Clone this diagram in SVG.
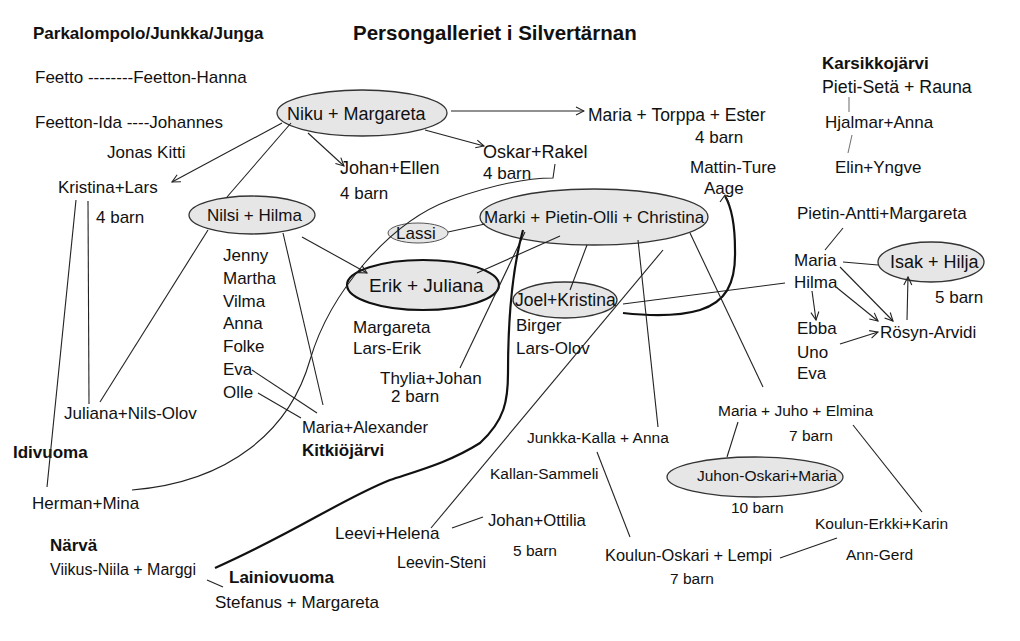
<svg xmlns="http://www.w3.org/2000/svg" width="1020" height="641" viewBox="0 0 1020 641">
<style>
text{font-family:"Liberation Sans",Arial,sans-serif;font-size:17px;fill:#111}
.b{font-weight:bold}
.s{font-size:15.5px}
.el{fill:#e6e6e6;stroke:#333;stroke-width:1.3}
.ln{stroke:#222;stroke-width:1.1;fill:none}
.thk{stroke:#111;stroke-width:2.2;fill:none}
.gr{stroke:#777;stroke-width:1.1;fill:none}
</style>
<defs>
<marker id="ar" markerWidth="10" markerHeight="10" refX="9" refY="5" orient="auto" markerUnits="userSpaceOnUse">
<path d="M1,1 L9,5 L1,9" fill="none" stroke="#222" stroke-width="1.1"/>
</marker>
</defs>
<rect width="1020" height="641" fill="#fff"/>

<g id="titles">
<text x="33" y="39" class="b">Parkalompolo/Junkka/Juŋga</text>
<text x="353" y="40" class="b" style="font-size:20.5px">Persongalleriet i Silvertärnan</text>
</g>

<g id="n-niku"><ellipse class="el" cx="362" cy="113" rx="85" ry="23"/><text x="287" y="120" style="font-size:18px">Niku + Margareta</text></g>
<g id="n-nilsi"><ellipse class="el" cx="252" cy="215" rx="63" ry="19"/><text x="207" y="221">Nilsi + Hilma</text></g>
<g id="n-erik"><ellipse class="el" cx="423" cy="285" rx="76" ry="25" style="stroke-width:2.2;stroke:#111"/><text x="369" y="292" style="font-size:19px">Erik + Juliana</text></g>
<g id="n-lassi"><ellipse class="el" cx="418" cy="233" rx="30" ry="10" style="stroke-width:1;stroke:#555"/><text x="396" y="239">Lassi</text></g>
<g id="n-marki"><ellipse class="el" cx="594" cy="217" rx="114" ry="28"/><text x="484" y="223">Marki + Pietin-Olli + Christina</text></g>
<g id="n-joel"><ellipse class="el" cx="565" cy="300" rx="52" ry="18"/><text x="515" y="306" style="font-size:17.5px">Joel+Kristina</text></g>
<g id="n-isak"><ellipse class="el" cx="931" cy="262" rx="53" ry="20"/><text x="890" y="268" style="font-size:18px">Isak + Hilja</text></g>
<g id="n-juhon"><ellipse class="el" cx="755" cy="477" rx="88" ry="20"/><text x="697" y="481" class="s">Juhon-Oskari+Maria</text></g>

<g id="n-left">
<text x="35" y="83">Feetto --------Feetton-Hanna</text>
<text x="35" y="128">Feetton-Ida ----Johannes</text>
<text x="107" y="158">Jonas Kitti</text>
<text x="58" y="193">Kristina+Lars</text>
<text x="96" y="223">4 barn</text>
<text x="64" y="419">Juliana+Nils-Olov</text>
<text x="13" y="458" class="b">Idivuoma</text>
<text x="32" y="509">Herman+Mina</text>
<text x="50" y="551" class="b">Närvä</text>
<text x="50" y="575" style="font-size:16px">Viikus-Niila + Marggi</text>
<text x="229" y="583" class="b">Lainiovuoma</text>
<text x="215" y="608">Stefanus + Margareta</text>
</g>

<g id="n-children">
<text x="223" y="261">Jenny</text>
<text x="223" y="284">Martha</text>
<text x="223" y="307">Vilma</text>
<text x="223" y="329">Anna</text>
<text x="223" y="352">Folke</text>
<text x="223" y="375">Eva</text>
<text x="223" y="398">Olle</text>
<text x="302" y="433" style="font-size:16.6px">Maria+Alexander</text>
<text x="302" y="456" class="b">Kitkiöjärvi</text>
</g>

<g id="n-top">
<text x="340" y="174" style="font-size:18px">Johan+Ellen</text>
<text x="340" y="199">4 barn</text>
<text x="483" y="158" style="font-size:18px">Oskar+Rakel</text>
<text x="483" y="179">4 barn</text>
<text x="588" y="121" style="font-size:17.5px">Maria + Torppa + Ester</text>
<text x="695" y="143">4 barn</text>
<text x="690" y="173">Mattin-Ture</text>
<text x="704" y="194">Aage</text>
</g>

<g id="n-center">
<text x="353" y="333">Margareta</text>
<text x="353" y="354">Lars-Erik</text>
<text x="380" y="384">Thylia+Johan</text>
<text x="391" y="402">2 barn</text>
<text x="516" y="331">Birger</text>
<text x="516" y="354">Lars-Olov</text>
</g>

<g id="n-bottom">
<text x="527" y="443" class="s">Junkka-Kalla + Anna</text>
<text x="490" y="479" class="s">Kallan-Sammeli</text>
<text x="335" y="539">Leevi+Helena</text>
<text x="397" y="568" style="font-size:16px">Leevin-Steni</text>
<text x="488" y="526" style="font-size:16.7px">Johan+Ottilia</text>
<text x="513" y="556" class="s">5 barn</text>
<text x="605" y="561" style="font-size:16.4px">Koulun-Oskari + Lempi</text>
<text x="670" y="584" class="s">7 barn</text>
<text x="718" y="416" class="s">Maria + Juho + Elmina</text>
<text x="789" y="441" class="s">7 barn</text>
<text x="731" y="513" class="s">10 barn</text>
<text x="815" y="529" class="s">Koulun-Erkki+Karin</text>
<text x="846" y="560" class="s">Ann-Gerd</text>
</g>

<g id="n-right">
<text x="822" y="69" class="b">Karsikkojärvi</text>
<text x="822" y="93" style="font-size:17.8px">Pieti-Setä + Rauna</text>
<text x="825" y="128">Hjalmar+Anna</text>
<text x="835" y="173">Elin+Yngve</text>
<text x="797" y="219">Pietin-Antti+Margareta</text>
<text x="794" y="266">Maria</text>
<text x="794" y="288">Hilma</text>
<text x="935" y="303">5 barn</text>
<text x="797" y="334">Ebba</text>
<text x="797" y="358">Uno</text>
<text x="797" y="379">Eva</text>
<text x="880" y="338">Rösyn-Arvidi</text>
</g>

<g id="connectors">
<line class="ln" x1="451" y1="111" x2="584" y2="111" marker-end="url(#ar)"/>
<line class="ln" x1="425" y1="130" x2="484" y2="146" marker-end="url(#ar)"/>
<line class="ln" x1="308" y1="133" x2="344" y2="166" marker-end="url(#ar)"/>
<line class="ln" x1="282" y1="123" x2="172" y2="182" marker-end="url(#ar)"/>
<line class="ln" x1="291" y1="123" x2="227" y2="197"/>
<line class="ln" x1="76" y1="200" x2="47" y2="487"/>
<line class="ln" x1="88" y1="201" x2="89" y2="404"/>
<line class="ln" x1="208" y1="230" x2="100" y2="402"/>
<line class="ln" x1="283" y1="233" x2="323" y2="405"/>
<line class="ln" x1="252" y1="370" x2="317" y2="413"/>
<line class="ln" x1="258" y1="393" x2="301" y2="418"/>
<line class="ln" x1="302" y1="237" x2="367" y2="273" marker-end="url(#ar)"/>
<path class="ln" d="M132,490 C230,482 290,430 310,360 C330,292 390,222 450,200 C495,184 525,178 553,178 L555,164"/>
<line class="ln" x1="448" y1="232" x2="485" y2="224"/>
<line class="ln" x1="560" y1="236" x2="477" y2="273"/>
<line class="ln" x1="525" y1="232" x2="460" y2="368"/>
<path class="thk" d="M523,230 C512,270 508,320 508,373 C508,400 505,420 480,443 C450,462 420,470 390,480 C340,500 300,530 215,568"/>
<line class="ln" x1="663" y1="250" x2="431" y2="528"/>
<line class="ln" x1="587" y1="245" x2="570" y2="290"/>
<line class="ln" x1="623" y1="304" x2="785" y2="283"/>
<path class="thk" d="M623,313 C650,316 680,316 700,310 C725,302 736,285 735,250 C735,225 732,208 725,196"/>
<path class="ln" d="M720,202 L725,195 L729,203"/>
<line class="ln" x1="638" y1="240" x2="658" y2="427"/>
<line class="ln" x1="690" y1="233" x2="763" y2="387"/>
<line class="ln" x1="597" y1="452" x2="630" y2="537"/>
<line class="ln" x1="780" y1="558" x2="837" y2="538"/>
<line class="ln" x1="738" y1="422" x2="727" y2="457"/>
<line class="ln" x1="853" y1="425" x2="922" y2="512"/>
<line class="ln" x1="452" y1="528" x2="483" y2="517"/>
<line class="ln" x1="207" y1="580" x2="223" y2="587"/>
<line class="gr" x1="849" y1="97" x2="849" y2="112"/>
<line class="gr" x1="852" y1="135" x2="848" y2="153"/>
<line class="ln" x1="843" y1="228" x2="825" y2="250"/>
<line class="ln" x1="843" y1="262" x2="878" y2="265"/>
<line class="ln" x1="840" y1="267" x2="893" y2="321" marker-end="url(#ar)"/>
<line class="ln" x1="836" y1="287" x2="878" y2="321" marker-end="url(#ar)"/>
<line class="ln" x1="812" y1="291" x2="816" y2="320" marker-end="url(#ar)"/>
<line class="ln" x1="840" y1="344" x2="878" y2="332" marker-end="url(#ar)"/>
<line class="ln" x1="907" y1="320" x2="908" y2="277" marker-end="url(#ar)"/>
</g>
</svg>
